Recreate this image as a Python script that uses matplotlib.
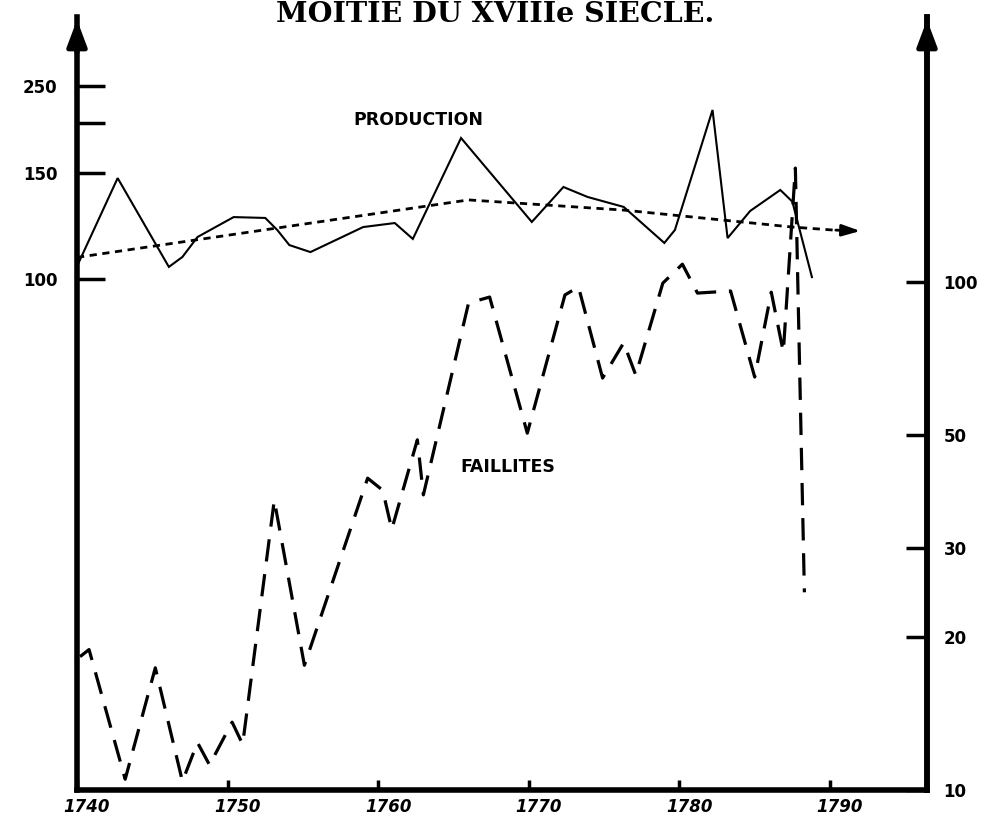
import numpy as np
import matplotlib

matplotlib.use("Agg")
import matplotlib.pyplot as plt
from matplotlib.scale import FuncScale
from matplotlib.transforms import ScaledTranslation

# production index (left axis)
prod_year = [1740.0, 1742.7, 1746.1, 1747.0, 1748.0, 1750.4, 1752.5, 1753.3,
             1754.1, 1755.5, 1759.0, 1761.1, 1762.3, 1765.5, 1770.2, 1772.3,
             1773.9, 1776.3, 1779.0, 1779.7, 1782.2, 1783.2, 1784.7, 1786.7,
             1787.5, 1788.8]
prod_val = [106, 147.6, 105.7, 110.4, 119.8, 129.2, 128.8, 123.1,
            116.0, 112.7, 124.5, 126.4, 118.9, 185.0, 126.9, 143.4,
            138.7, 134.0, 117.0, 123.1, 217.6, 119.3, 132.1, 142.0,
            136.5, 100.9]

# trend of production (dotted, ends in an arrow)
trend_year = [1740.0, 1766.0, 1776.3, 1787.5, 1790.2, 1792.2]
trend_val = [110.2, 137.3, 132.5, 124.5, 123.1, 122.6]

# faillites (right axis, log)
fail_year = [1740.2, 1740.8, 1743.2, 1745.2, 1747.0, 1748.0, 1748.8, 1750.3,
             1751.0, 1753.1, 1755.1, 1759.3, 1760.3, 1760.9, 1762.6, 1763.0,
             1766.0, 1767.4, 1769.9, 1772.4, 1773.3, 1774.9, 1776.3, 1777.1,
             1778.9, 1780.2, 1781.2, 1783.4, 1785.0, 1786.1, 1786.9, 1787.7,
             1788.3]
fail_val = [18.3, 18.9, 10.5, 17.4, 10.4, 12.4, 11.2, 13.6,
            12.3, 37.2, 17.6, 41.1, 38.9, 32.6, 48.9, 38.1,
            90.9, 93.4, 50.4, 94.3, 97.8, 64.7, 75.9, 65.6,
            99.5, 108.4, 95.1, 96.0, 65.0, 95.5, 72.8, 167.6,
            24.5]

x_ticks = [1740, 1750, 1760, 1770, 1780, 1790]
left_ticks = [100, 150, 200, 250]
left_labels = ["100", "150", "", "250"]
right_ticks = [10, 20, 30, 50, 100]

# the left scale of the original is hand drawn and uneven: map it piecewise
L_VALS = [0, 100, 150, 200, 250, 1000]
L_POS = [0, 511, 617, 667, 704, 1259]


def fwd(v):
    return np.interp(v, L_VALS, L_POS)


def inv(p):
    return np.interp(p, L_POS, L_VALS)


W, H = 998, 818
fig = plt.figure(figsize=(W / 100, H / 100), dpi=100)
ax = fig.add_axes([77 / W, (H - 790) / H, (927 - 77) / W, (790 - 17) / H])
ax2 = ax.twinx()

ax.set_xlim(1740, 1740 + (927 - 77) / 15.06)
ax.set_yscale(FuncScale(ax.yaxis, (fwd, inv)))
ax.set_ylim(0, inv(773))
ax2.set_yscale("log")
ax2.set_ylim(10, 10 * 10 ** ((790 - 17) / 508))

ax.plot(prod_year, prod_val, color="k", lw=1.5, solid_joinstyle="miter")
ax.plot(trend_year[:-1], trend_val[:-1], color="k", lw=2.0,
        ls=(0, (2.6, 2.0)))
ax.annotate("", xy=(trend_year[-1], trend_val[-1]),
            xytext=(trend_year[-2], trend_val[-2]),
            arrowprops=dict(arrowstyle="-|>,head_length=1.1,head_width=0.35",
                            color="k", lw=2.0))
ax2.plot(fail_year, fail_val, color="k", lw=2.3, ls=(0, (7, 4)))

for a in (ax, ax2):
    a.spines["top"].set_visible(False)
    for s in ("left", "right", "bottom"):
        a.spines[s].set_linewidth(4)
ax2.spines["left"].set_visible(False)
ax2.spines["bottom"].set_visible(False)

# arrow heads on the two vertical axes
for xf in (0, 1):
    ax.annotate("", xy=(xf, 1.0), xytext=(xf, 0.95),
                xycoords="axes fraction",
                arrowprops=dict(arrowstyle="-|>,head_length=1.6,head_width=0.6",
                                color="k", lw=3.5))

ax.set_xticks(x_ticks)
ax.set_xticklabels([str(y) for y in x_ticks])
ax.tick_params(axis="x", direction="in", length=7, width=2.5,
               labelsize=12, pad=6)
off = ScaledTranslation(10 / 100, 0, fig.dpi_scale_trans)
for lab in ax.get_xticklabels():
    lab.set_transform(lab.get_transform() + off)
    lab.set_fontweight("bold")
    lab.set_fontstyle("italic")

ax.set_yticks(left_ticks)
ax.set_yticklabels(left_labels)
ax.yaxis.set_minor_locator(matplotlib.ticker.NullLocator())
ax.tick_params(axis="y", direction="in", length=20, width=2.5,
               labelsize=12, pad=14)
for lab in ax.get_yticklabels():
    lab.set_fontweight("bold")

ax2.set_yticks(right_ticks)
ax2.set_yticklabels([str(v) for v in right_ticks])
ax2.yaxis.set_minor_locator(matplotlib.ticker.NullLocator())
ax2.tick_params(axis="y", direction="in", length=15, width=2.5,
                labelsize=12, pad=12)
for lab in ax2.get_yticklabels():
    lab.set_fontweight("bold")

fig.text(495 / W, (H - 22) / H, "MOITIE DU XVIIIe SIECLE.", ha="center",
         va="baseline", family="DejaVu Serif", fontsize=20.5,
         fontweight="bold")
fig.text(353 / W, (H - 125) / H, "PRODUCTION", ha="left", va="baseline",
         fontsize=12.5, fontweight="bold")
fig.text(460 / W, (H - 472) / H, "FAILLITES", ha="left", va="baseline",
         fontsize=12.5, fontweight="bold")

fig.savefig("out.png", dpi=100)
